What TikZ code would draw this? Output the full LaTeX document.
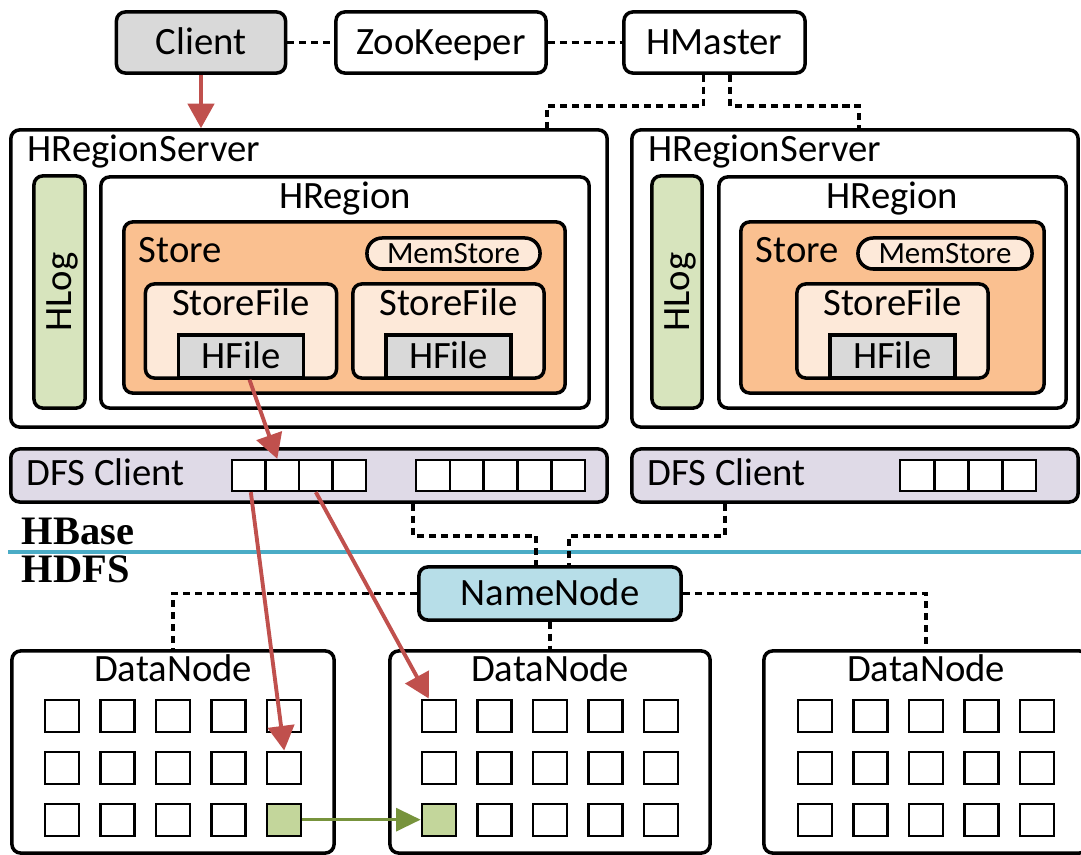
\documentclass[tikz,border=0pt]{standalone}
\usepackage{fontspec}
\setmainfont{Carlito}
\newfontfamily\hfont{Liberation Serif}
\usetikzlibrary{arrows.meta,positioning,calc}

\definecolor{hgray}{HTML}{D9D9D9}
\definecolor{hgreen}{HTML}{D7E4BD}
\definecolor{horange}{HTML}{FAC090}
\definecolor{hpeach}{HTML}{FDE9D9}
\definecolor{hlilac}{HTML}{DFDAE7}
\definecolor{hblue}{HTML}{B7DEE8}
\definecolor{hline}{HTML}{4BACC6}
\definecolor{hred}{HTML}{C0504D}
\definecolor{hgrn}{HTML}{77933C}
\definecolor{hcell}{HTML}{C3D69B}

\begin{document}
\begin{tikzpicture}[x=0.01cm, y=0.01cm, font=\fontsize{11}{13}\selectfont, >=Triangle,
  bx/.style={draw, line width=1pt, rounded corners=2.5pt, inner sep=0pt, fill=#1},
  bx/.default=white,
  tx/.style={text height=7.1pt, text depth=0pt},
  cell/.style={draw, line width=0.65pt, inner sep=0pt, minimum width=0.335cm, minimum height=0.31cm, fill=#1},
  cell/.default=white,
  lbl/.style={inner sep=0pt},
  lnk/.style={line width=1pt, dash pattern=on 2pt off 1.4pt},
  rd/.style={hred, line width=1.1pt, -{Triangle[width=7.5pt,length=7pt]}},
  gn/.style={hgrn, line width=1pt, -{Triangle[width=6.5pt,length=7pt]}}]
\useasboundingbox (0,0) rectangle (1081,-855);

% top row
\node[bx=hgray, tx, minimum width=1.69cm, minimum height=0.61cm] (client) at (201,-42.5) {Client};
\node[bx, tx, minimum width=2.10cm, minimum height=0.61cm] (zk) at (441,-42.5) {ZooKeeper};
\node[bx, tx, minimum width=1.81cm, minimum height=0.61cm] (hm) at (714.5,-42.5) {HMaster};
\draw[lnk] (client) -- (zk);
\draw[lnk] (zk) -- (hm);

% region servers
\node[bx, minimum width=5.96cm, minimum height=2.97cm] (hrs1) at (309,-278.5) {};
\node[bx, minimum width=4.46cm, minimum height=2.97cm] (hrs2) at (855,-278.5) {};
\foreach \s in {1,2}
  \node[lbl, anchor=base west] (lbl-hrs\s) at ($(hrs\s.north west)+(18,-33)$) {HRegionServer};
\node[bx=hgreen, tx, rotate=90, minimum width=2.32cm, minimum height=0.51cm] (hlog1) at (59.5,-292) {HLog};
\node[bx=hgreen, tx, rotate=90, minimum width=2.32cm, minimum height=0.50cm] (hlog2) at (677,-292) {HLog};
\node[bx, minimum width=4.88cm, minimum height=2.31cm] (hreg1) at (345,-292.5) {};
\node[bx, minimum width=3.47cm, minimum height=2.31cm] (hreg2) at (892.5,-292.5) {};
\node[bx=horange, minimum width=4.41cm, minimum height=1.71cm] (st1) at (344.5,-307.5) {};
\node[bx=horange, minimum width=3.03cm, minimum height=1.71cm] (st2) at (892.5,-307.5) {};
\foreach \s in {1,2} {
  \node[lbl, anchor=base] (lbl-hreg\s) at ([yshift=-0.33cm]hreg\s.north) {HRegion};
  \node[lbl, anchor=base west] (lbl-st\s) at ($(st\s.north west)+(16,-42)$) {Store};
}
\node[bx=hpeach, rounded corners=4.3pt, text height=5.8pt, text depth=0pt, minimum width=1.73cm, minimum height=0.31cm, font=\fontsize{8.8}{10}\selectfont] (ms1) at (453.5,-253.5) {MemStore};
\node[bx=hpeach, rounded corners=4.3pt, text height=5.8pt, text depth=0pt, minimum width=1.74cm, minimum height=0.31cm, font=\fontsize{8.8}{10}\selectfont] (ms2) at (945,-253.5) {MemStore};
\foreach \n/\x in {sf1/241, sf2/448.5, sf3/892.5} {
  \node[bx=hpeach, minimum width=1.91cm, minimum height=0.94cm] (\n) at (\x,-331) {};
  \node[lbl, anchor=base] (lbl-\n) at ([yshift=-0.33cm]\n.north) {StoreFile};
  \node[bx=hgray, tx, rounded corners=0pt, anchor=south, minimum width=1.25cm, minimum height=0.43cm] (hf-\n) at (\n.south) {HFile};
}

% dfs clients
\node[bx=hlilac, minimum width=5.96cm, minimum height=0.53cm] (dfs1) at (309,-475.5) {};
\node[bx=hlilac, minimum width=4.46cm, minimum height=0.53cm] (dfs2) at (855,-475.5) {};
\foreach \s in {1,2}
  \node[lbl, anchor=base west] (lbl-dfs\s) at ($(dfs\s.west)+(17,-10)$) {DFS Client};
\foreach \i in {1,...,4} \node[cell] (da\i) at ($(dfs1.west)+(206.25+\i*33.5,0)$) {};
\foreach \i in {1,...,5} \node[cell] (db\i) at ($(dfs1.west)+(390.1+\i*33.8,0)$) {};
\foreach \i in {1,...,4} \node[cell] (dc\i) at ($(dfs2.west)+(253+\i*34,0)$) {};

% hbase / hdfs
\draw[hline, line width=1.3pt] (8,-552) -- (1081,-552);
\node[lbl, anchor=base west, font=\fontsize{11.5}{13}\selectfont\hfont\bfseries] (hbase) at (21,-545) {HBase};
\node[lbl, anchor=base west, font=\fontsize{11.5}{13}\selectfont\hfont\bfseries] (hdfs) at (21,-583) {HDFS};

\node[bx=hblue, tx, minimum width=2.62cm, minimum height=0.53cm] (nn) at (550,-593.5) {NameNode};
\draw[lnk] ([xshift=1.04cm]dfs1.south) -- ++(0,-32) -| ([xshift=-0.14cm]nn.north);
\draw[lnk] ([xshift=-1.30cm]dfs2.south) -- ++(0,-32) -| ([xshift=0.19cm]nn.north);
\draw[lnk] ([xshift=-0.11cm]hm.south) -- ++(0,-31) -| ([xshift=2.38cm]hrs1.north);
\draw[lnk] ([xshift=0.155cm]hm.south) -- ++(0,-31) -| ([xshift=0.04cm]hrs2.north);

% data nodes
\foreach \d/\x/\w in {1/173/3.22cm, 2/550/3.20cm, 3/926/3.24cm} {
  \node[bx, minimum width=\w, minimum height=2.02cm] (dn\d) at (\x,-752) {};
  \node[lbl, anchor=base] (lbl-dn\d) at ([yshift=-0.32cm]dn\d.north) {DataNode};
}
\foreach \d/\gc in {1/5, 2/1, 3/0}
  \foreach \c in {1,...,5}
    \foreach \r in {1,2,3} {
      \ifnum\r=3 \ifnum\c=\gc \def\cf{hcell}\else\def\cf{white}\fi \else\def\cf{white}\fi
      \node[cell=\cf, minimum width=0.34cm, minimum height=0.32cm] (g\d\c\r) at ($(dn\d.north)+(\c*55.6-166.8,-14.5-\r*52)$) {};
    }
\draw[lnk] (nn.west) -| (dn1.north);
\draw[lnk] (nn.east) -| (dn3.north);
\draw[lnk] (nn.south) -- (dn2.north);

% data flow
\draw[rd] (client.south) -- (client.south |- hrs1.north);
\draw[rd] ([xshift=0.085cm]hf-sf1.south) -- ([xshift=-0.05cm]da2.north);
\draw[rd] ([xshift=0.02cm]da1.south) -- (g152.north);
\draw[rd] (da3.south) -- ([xshift=-0.1cm]g211.north);
\draw[gn] (g153) -- (g213);
\end{tikzpicture}
\end{document}
